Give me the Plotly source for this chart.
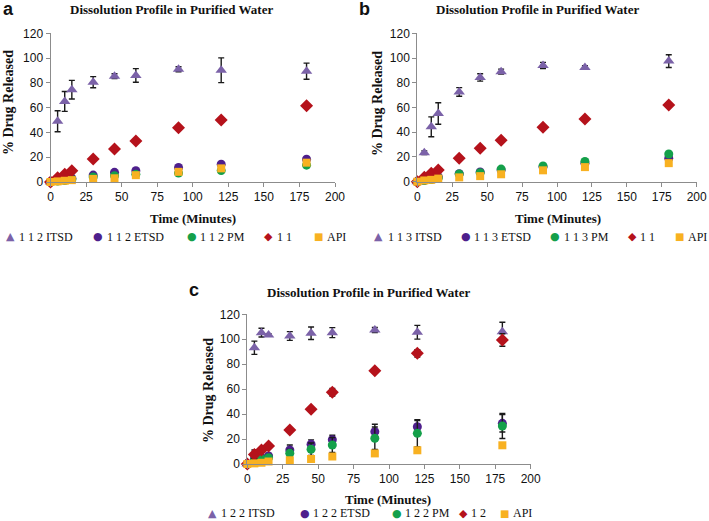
import plotly.graph_objects as go

W, H = 709, 521

time_pts = [0, 5, 10, 15, 30, 45, 60, 90, 120, 180]

# ---------- Panel a ----------
a_itsd = [0, 49, 65, 74.5, 80.5, 85.4, 86, 91, 90.2, 89.4]
a_itsd_err = [0, 8.5, 8, 7.5, 4.5, 2, 5.5, 2, 10, 6.5]
a_etsd = [0, 1.2, 1.8, 3, 5.6, 7.8, 9.1, 11.7, 14.4, 18.4]
a_pm = [0, 0.8, 1.2, 2, 4, 5, 6.2, 7.2, 9.2, 13.6]
a_bin = [0, 3.5, 6.2, 9.1, 18.5, 26.6, 33, 43.7, 50, 61.5]
a_api = [0, 0.5, 1, 1.5, 2.5, 3, 5.5, 8.2, 11, 15.6]

# ---------- Panel b ----------
b_itsd = [0, 23.4, 44.4, 55.2, 72.6, 84.3, 89, 94, 92.3, 97.5]
b_itsd_err = [0, 1.5, 8, 8.7, 3.5, 3, 2, 2.5, 1.5, 5.2]
b_etsd = [0, 1.2, 2, 4, 6.5, 7.8, 9.5, 12, 15, 19]
b_pm = [0, 1, 1.8, 3, 6.2, 7.3, 10.2, 12.7, 16.3, 22.4]
b_bin = [0, 3.5, 6.8, 9.4, 18.9, 27, 33.6, 44.1, 50.8, 62.1]
b_api = [0, 1, 1.5, 2.5, 3.5, 4.5, 6, 9.2, 11.8, 15]

# ---------- Panel c ----------
c_itsd = [0, 93.2, 105.3, 103.4, 102.6, 104.8, 105.3, 107.4, 105.6, 106.1]
c_itsd_err = [0, 5.3, 3.5, 1, 3.5, 5, 4, 2, 5.5, 7.5]
c_etsd = [0, 4, 5, 6.5, 11.2, 15.8, 19.5, 25.9, 29.9, 32.6]
c_etsd_err = [0, 1.5, 1.5, 2, 4, 3.5, 3.5, 6, 5, 7]
c_pm = [0, 3, 4, 5, 8.6, 11.8, 15.2, 20.6, 24.6, 30.5]
c_pm_err = [0, 1, 1.5, 2, 3, 5, 6, 9, 11, 10]
c_bin = [0, 7.7, 11.2, 14.4, 27.3, 43.8, 57.5, 74.8, 88.7, 99.4]
c_bin_err = [0, 3.5, 1.5, 1.5, 1.5, 1.5, 3, 1.5, 3, 5]
c_api = [0, 0.5, 1, 2, 3, 4, 6, 8.5, 11, 15]

names_a = ["1 1 2 ITSD", "1 1 2 ETSD", "1 1 2 PM", "1 1", "API"]
names_b = ["1 1 3 ITSD", "1 1 3 ETSD", "1 1 3 PM", "1 1", "API"]
names_c = ["1 2 2 ITSD", "1 2 2 ETSD", "1 2 2 PM", "1 2", "API"]

panel_title = "Dissolution Profile in Purified Water"
x_title = "Time (Minutes)"
y_title = "% Drug Released"
x_ticks = [0, 25, 50, 75, 100, 125, 150, 175, 200]
y_ticks = [0, 20, 40, 60, 80, 100, 120]

C_ITSD = "#7B62A8"
C_ETSD = "#4E1F8C"
C_PM = "#14A04A"
C_BIN = "#B5121B"
C_API = "#F8B121"
ERR_C = "#1a1a1a"

SERIF = "Liberation Serif"
SANS = "Liberation Sans"


def px_x(p):
    return p / W


def px_y(p):
    return 1 - p / H


fig = go.Figure()

panels = [
    dict(ax="", names=names_a,
         data=[a_itsd, a_etsd, a_pm, a_bin, a_api],
         errs=[a_itsd_err, None, None, None, None]),
    dict(ax="2", names=names_b,
         data=[b_itsd, b_etsd, b_pm, b_bin, b_api],
         errs=[b_itsd_err, None, None, None, None]),
    dict(ax="3", names=names_c,
         data=[c_itsd, c_etsd, c_pm, c_bin, c_api],
         errs=[c_itsd_err, c_etsd_err, c_pm_err, c_bin_err, None]),
]
symbols = ["triangle-up", "circle", "circle", "diamond", "square"]
sizes = [10, 9, 9, 10, 8]
colors = [C_ITSD, C_ETSD, C_PM, C_BIN, C_API]

for p in panels:
    for i in range(5):
        err = p["errs"][i]
        fig.add_trace(go.Scatter(
            x=time_pts, y=p["data"][i], mode="markers", name=p["names"][i],
            marker=dict(symbol=symbols[i], size=sizes[i], color=colors[i], line=dict(width=0)),
            error_y=(dict(type="data", array=err, visible=True, color=ERR_C, thickness=1.4, width=3)
                     if err is not None else dict(visible=False)),
            xaxis="x" + p["ax"], yaxis="y" + p["ax"],
            cliponaxis=False, showlegend=False,
        ))

# plot-area pixel boxes: (x0, x1, ytop, ybottom)
boxes = {
    "": (50.5, 335, 33.3, 182),
    "2": (417.3, 696.7, 33.3, 181.7),
    "3": (247.3, 530.7, 314.3, 464),
}

axis_common = dict(showline=True, linecolor="#8c8c8c", linewidth=1, ticks="outside",
                   ticklen=4, tickcolor="#8c8c8c", showgrid=False, zeroline=False,
                   automargin=False,
                   tickfont=dict(family=SANS, size=12, color="#111"))

layout = dict(width=W, height=H, margin=dict(l=0, r=0, t=0, b=0, autoexpand=False),
              paper_bgcolor="white", plot_bgcolor="white", showlegend=False)

for k, (x0, x1, yt, yb) in boxes.items():
    layout["xaxis" + k] = dict(domain=[px_x(x0), px_x(x1)], range=[0, 200], tickvals=x_ticks,
                               anchor="y" + k, **axis_common)
    layout["yaxis" + k] = dict(domain=[px_y(yb), px_y(yt)], range=[0, 120], tickvals=y_ticks,
                               anchor="x" + k, **axis_common)

fig.update_layout(**layout)

annotations = []


def ann(text, x, y, size, family, bold=True, angle=0, xanchor="center", color="#111"):
    annotations.append(dict(text=("<b>%s</b>" % text) if bold else text, x=px_x(x), y=px_y(y),
                            xref="paper", yref="paper", showarrow=False, textangle=angle,
                            xanchor=xanchor, yanchor="middle",
                            font=dict(family=family, size=size, color=color)))


# panel titles
ann(panel_title, 171, 10, 13, SERIF)
ann(panel_title, 537, 10, 13, SERIF)
ann(panel_title, 368, 292, 13, SERIF)
# x axis titles
ann(x_title, 193, 218, 13, SERIF)
ann(x_title, 558, 218, 13, SERIF)
ann(x_title, 388, 499, 13, SERIF)
# y axis titles
ann(y_title, 9, 103, 14, SERIF, angle=-90)
ann(y_title, 378, 103, 14, SERIF, angle=-90)
ann(y_title, 208, 391, 14, SERIF, angle=-90)
# panel letters
ann("a", 8, 9, 18, SANS)
ann("b", 364, 9, 18, SANS)
ann("c", 194, 290, 18, SANS)

# legends (marker glyph + label), one row per panel
glyphs = ["\u25B2", "\u25CF", "\u25CF", "\u25C6", "\u25A0"]
glyph_sizes = [11, 11, 11, 11, 10]
legend_rows = [
    (names_a, 237, [10, 98, 192, 268, 318], [17, 105, 198, 275, 325]),
    (names_b, 237, [379, 466, 555, 632, 679], [386, 472, 562, 638, 686]),
    (names_c, 513, [213, 305, 397, 463, 504], [219, 311, 403, 469, 511]),
]
for names, yy, mxs, txs in legend_rows:
    for i in range(5):
        ann(glyphs[i], mxs[i], yy, glyph_sizes[i], "DejaVu Sans", bold=False, color=colors[i])
        ann(names[i], txs[i], yy, 12, SERIF, bold=False, xanchor="left")

fig.update_layout(annotations=annotations)

fig.write_html("out.html", config={"displayModeBar": False},
               post_script="document.body.style.margin='0';document.body.style.overflow='hidden';")
